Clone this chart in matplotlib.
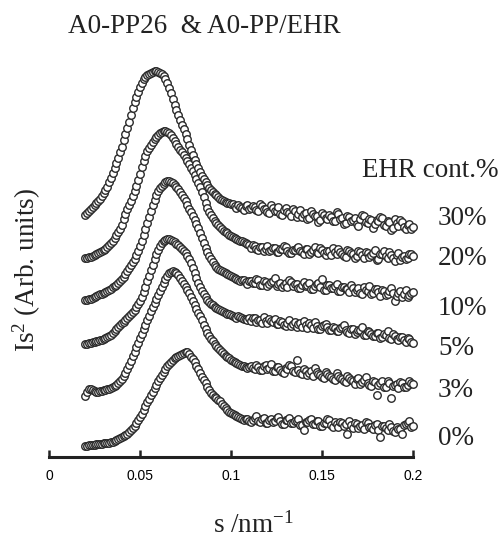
import numpy as np
import matplotlib.pyplot as plt

#--------------- Style ---------------------
plt.rcParams['font.family'] = 'serif'
plt.rcParams['font.serif'] = ['Liberation Serif', 'DejaVu Serif']
plt.rcParams['mathtext.fontset'] = 'custom'
plt.rcParams['mathtext.rm'] = 'Liberation Serif'
plt.rcParams['mathtext.it'] = 'Liberation Serif:italic'

#--------------- Data ----------------------
# scattering vector s (nm^-1), 0.020 ... 0.200
s = np.round(np.arange(0.020, 0.2005, 0.001), 3)

# Is^2 (arb. units), each curve already shifted upward for clarity
is2_0 = [11, 11, 12, 12, 12, 12, 13, 13, 13, 13, 14, 14, 14, 14, 15, 15, 16, 17, 18, 19,
         20, 21, 22, 23, 25, 27, 29, 31, 34, 37, 40, 43, 47, 51, 55, 58, 62, 65, 69, 72,
         76, 79, 82, 85, 88, 91, 93, 95, 97, 99, 100, 101, 102, 103, 104, 105, 105, 103, 100, 98,
         95, 91, 88, 84, 80, 77, 74, 70, 67, 64, 62, 60, 59, 57, 56, 53, 51, 49, 47, 45,
         44,
         43, 42, 41, 40, 39, 38, 37, 38, 38, 36, 35, 37, 39, 41, 36, 35, 38, 39, 34, 34,
         37, 38, 35, 36, 39, 40, 36, 33, 33, 37, 37, 39, 34, 34, 36, 36, 38, 32, 32, 27,
         35, 35, 37, 38, 33, 33, 36, 36, 31, 31, 34, 34, 38, 37, 32, 30, 35, 33, 30, 35,
         34, 31, 33, 23, 36, 32, 29, 34, 33, 29, 31, 32, 28, 35, 34, 30, 30, 28, 32, 33,
         27, 20, 31, 31, 29, 27, 33, 30, 26, 25, 30, 28, 28, 23, 32, 33, 34, 36, 30, 31]
is2_3 = [61, 65, 68, 68, 67, 66, 65, 65, 66, 66, 67, 67, 68, 68, 69, 70, 71, 72, 74, 76,
         78, 81, 84, 88, 92, 96, 101, 105, 110, 114, 119, 123, 128, 132, 137, 141, 146, 150, 154, 158,
         162, 166, 170, 174, 178, 181, 184, 185, 186, 185, 184, 182, 179, 176, 173, 170, 167, 164, 160, 156,
         152, 148, 144, 141, 137, 132, 128, 124, 121, 118, 116, 113, 111, 109, 107, 105, 103, 101, 100, 99,
         97,
         96, 95, 94, 93, 92, 91, 91, 90, 89, 90, 91, 89, 88, 92, 90, 87, 87, 91, 92, 88,
         89, 93, 86, 86, 90, 90, 87, 85, 84, 89, 88, 92, 91, 86, 85, 97, 87, 84, 83, 88,
         86, 82, 84, 86, 81, 89, 85, 83, 82, 80, 79, 85, 83, 81, 80, 78, 77, 84, 81, 79,
         78, 76, 75, 81, 79, 77, 76, 73, 78, 79, 73, 75, 77, 80, 74, 72, 71, 76, 75, 62,
         72, 74, 76, 70, 70, 76, 74, 59, 71, 72, 73, 69, 75, 74, 70, 70, 72, 76, 74, 73]
is2_5 = [113, 113, 114, 114, 115, 115, 116, 116, 117, 117, 118, 119, 120, 121, 122, 124, 126, 128, 130, 132,
         134, 135, 137, 139, 141, 143, 145, 147, 150, 153, 156, 160, 165, 170, 176, 181, 187, 192, 198, 203,
         207, 211, 214, 216, 217, 218, 218, 217, 216, 215, 213, 212, 210, 208, 206, 204, 201, 198, 194, 189,
         184, 179, 174, 170, 166, 163, 160, 157, 155, 153, 152, 150, 149, 148, 147, 146, 145, 144, 143, 143,
         142,
         141, 140, 139, 141, 140, 139, 138, 138, 137, 139, 136, 139, 139, 135, 137, 137, 134, 140, 136, 134,
         138, 136, 135, 138, 133, 133, 136, 135, 132, 131, 134, 137, 131, 133, 135, 130, 133, 134, 130, 136,
         132, 129, 134, 132, 129, 135, 131, 128, 128, 131, 132, 133, 130, 127, 127, 130, 129, 126, 126, 129,
         130, 132, 127, 125, 124, 128, 128, 123, 125, 127, 127, 130, 122, 122, 126, 125, 123, 121, 121, 124,
         124, 119, 120, 123, 122, 126, 119, 118, 123, 121, 118, 117, 120, 120, 117, 115, 119, 118, 115, 114]
is2_10 = [157, 157, 158, 158, 159, 160, 161, 162, 163, 163, 164, 165, 166, 167, 168, 170, 171, 172, 174, 176,
          178, 180, 183, 186, 189, 192, 195, 198, 202, 206, 211, 216, 222, 228, 234, 240, 246, 252, 257, 262,
          266, 269, 271, 273, 275, 276, 276, 275, 274, 272, 270, 268, 265, 262, 259, 256, 252, 248, 245, 241,
          237, 233, 229, 224, 219, 214, 209, 205, 201, 198, 195, 192, 190, 188, 187, 186, 185, 184, 183, 182,
          181,
          180, 179, 178, 177, 176, 177, 177, 175, 173, 176, 176, 174, 174, 178, 177, 172, 172, 176, 175, 171,
          173, 175, 176, 179, 171, 173, 174, 170, 172, 174, 170, 177, 175, 171, 173, 173, 169, 169, 172, 175,
          171, 172, 174, 168, 168, 171, 173, 174, 170, 178, 167, 167, 172, 172, 169, 169, 171, 173, 166, 166,
          170, 170, 168, 168, 165, 172, 169, 165, 167, 169, 164, 163, 170, 167, 166, 171, 163, 164, 168, 168,
          165, 161, 167, 166, 162, 163, 166, 169, 164, 156, 161, 164, 166, 160, 163, 167, 160, 162, 164, 165]
is2_20 = [199, 199, 200, 200, 201, 202, 203, 204, 205, 206, 207, 208, 210, 212, 214, 216, 219, 222, 225, 228,
          232, 238, 243, 248, 252, 256, 261, 266, 271, 277, 283, 290, 296, 301, 306, 309, 312, 315, 318, 320,
          322, 324, 325, 326, 326, 325, 324, 322, 319, 316, 313, 310, 307, 305, 302, 299, 296, 293, 289, 286,
          282, 278, 274, 270, 265, 260, 254, 249, 245, 242, 239, 236, 234, 232, 230, 228, 226, 225, 224, 222,
          221,
          220, 219, 218, 217, 216, 216, 215, 214, 213, 212, 209, 212, 211, 208, 207, 210, 210, 206, 208, 211,
          206, 207, 209, 209, 205, 205, 208, 208, 211, 210, 206, 204, 204, 207, 207, 209, 210, 206, 205, 203,
          208, 208, 203, 205, 207, 210, 205, 204, 209, 207, 204, 202, 206, 206, 202, 209, 205, 203, 208, 205,
          203, 201, 200, 207, 206, 204, 203, 199, 201, 206, 205, 202, 199, 205, 204, 200, 202, 204, 207, 197,
          198, 203, 203, 206, 201, 199, 205, 202, 199, 196, 202, 204, 197, 200, 201, 198, 199, 203, 203, 201]
is2_30 = [242, 244, 246, 248, 250, 252, 254, 256, 258, 261, 264, 267, 270, 275, 279, 284, 289, 294, 299, 305,
          310, 317, 323, 329, 335, 342, 349, 355, 360, 365, 370, 374, 378, 380, 382, 383, 384, 385, 386, 386,
          385, 384, 383, 381, 378, 374, 369, 364, 358, 352, 347, 342, 337, 332, 328, 323, 318, 312, 307, 302,
          297, 293, 289, 285, 281, 278, 275, 272, 269, 267, 265, 263, 262, 260, 258, 257, 256, 255, 254, 254,
          253,
          253, 251, 249, 252, 250, 249, 247, 251, 252, 248, 249, 251, 250, 247, 246, 253, 251, 248, 248, 245,
          244, 252, 249, 246, 246, 250, 243, 242, 247, 249, 245, 244, 241, 248, 246, 240, 243, 247, 240, 243,
          244, 238, 239, 246, 243, 241, 241, 235, 237, 244, 242, 239, 238, 242, 240, 236, 236, 245, 243, 238,
          239, 233, 234, 241, 240, 236, 237, 239, 233, 231, 238, 242, 241, 235, 234, 238, 237, 229, 233, 237,
          236, 240, 239, 232, 231, 236, 235, 227, 229, 238, 234, 231, 237, 235, 230, 228, 232, 233, 228, 230]

curves = [is2_0, is2_3, is2_5, is2_10, is2_20, is2_30]
labels = ['0%', '3%', '5%', '10%', '20%', '30%']
label_y = [12, 60, 102, 142, 192, 232]
ticks = [0, 0.05, 0.1, 0.15, 0.2]
tick_labels = ['0', '0.05', '0.1', '0.15', '0.2']

#---------------- Graph ------------------
fig = plt.figure(figsize=(5.02, 5.39), dpi=100)
ax = fig.add_axes([49/502, 82/539, 364/502, 397/539])

for vals in curves:
    ax.plot(s, vals, 'o', ms=5.4, mfc='white', mec='#2a2a2a', mew=1.0, clip_on=False)

for lab, y in zip(labels, label_y):
    ax.text(0.2137, y, lab, fontsize=19.5, va='baseline', ha='left', color='#222222')
ax.text(0.172, 280, 'EHR cont.%', fontsize=19.5, va='baseline', ha='left', color='#222222')

ax.set_xlim(0, 0.2)
ax.set_ylim(0, 397)
for side in ['left', 'right', 'top']:
    ax.spines[side].set_visible(False)
ax.spines['bottom'].set_linewidth(2.2)
ax.spines['bottom'].set_color('#222222')
ax.set_yticks([])
ax.set_xticks(ticks)
ax.set_xticklabels(tick_labels, fontfamily='Liberation Sans', fontsize=10)
ax.tick_params(axis='x', direction='in', length=5, width=1.8, pad=9, color='#222222')

fig.text(68/502, 1 - 33/539, 'A0-PP26  & A0-PP/EHR', fontsize=19.5, va='baseline', ha='left',
         color='#222222')
fig.text(27/502, 1 - 270/539, 'Is$^{2}$ (Arb. units)', fontsize=19.5, rotation=90,
         ha='center', va='center', color='#222222')
fig.text(253/502, 1 - 533/539, 's /nm$^{\\mathrm{-1}}$', fontsize=19.5, ha='center', va='baseline',
         color='#222222')

fig.savefig('out.png', dpi=100)
